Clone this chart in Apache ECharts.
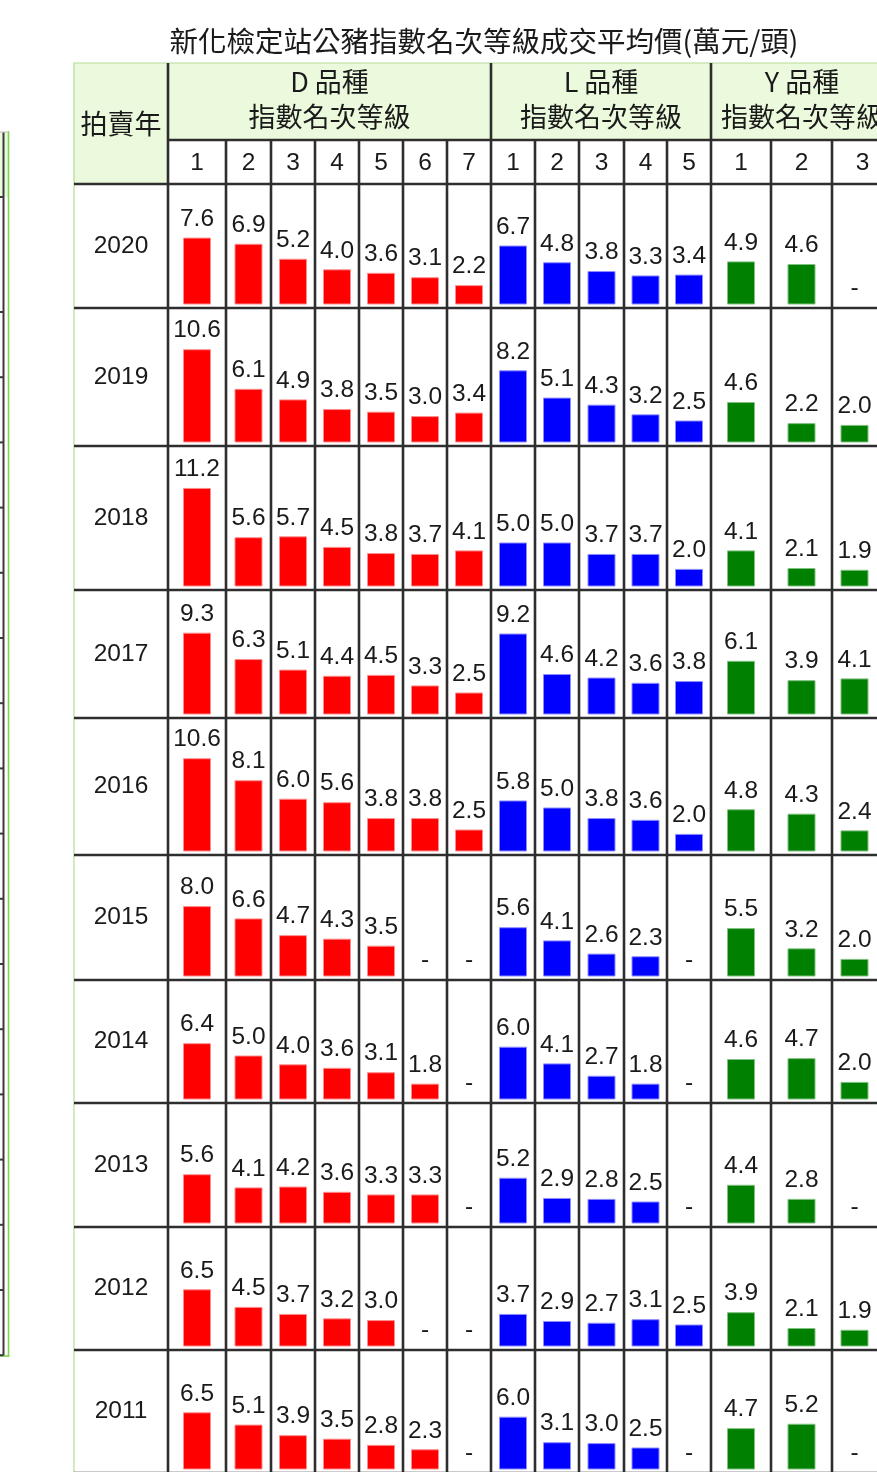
<!DOCTYPE html>
<html>
<head>
<meta charset="utf-8">
<script src="https://cdn.jsdelivr.net/npm/echarts@6/dist/echarts.min.js"></script>
<style>
html, body { margin: 0; padding: 0; background: #fff; }
#chart { width: 877px; height: 1472px; }
</style>
</head>
<body>
<div id="chart"></div>
<script>
var myChart = echarts.init(document.getElementById('chart'));

// data (萬元/頭), null = 無成交 "-"
var titleText = '新化檢定站公豬指數名次等級成交平均價(萬元/頭)';
var yearHead = '拍賣年';
var years = ['2020', '2019', '2018', '2017', '2016', '2015', '2014', '2013', '2012', '2011'];
var dGrades = ['1', '2', '3', '4', '5', '6', '7'];
var lGrades = ['1', '2', '3', '4', '5'];
var yGrades = ['1', '2', '3'];

var dPrice = [
  [7.6, 6.9, 5.2, 4.0, 3.6, 3.1, 2.2],
  [10.6, 6.1, 4.9, 3.8, 3.5, 3.0, 3.4],
  [11.2, 5.6, 5.7, 4.5, 3.8, 3.7, 4.1],
  [9.3, 6.3, 5.1, 4.4, 4.5, 3.3, 2.5],
  [10.6, 8.1, 6.0, 5.6, 3.8, 3.8, 2.5],
  [8.0, 6.6, 4.7, 4.3, 3.5, null, null],
  [6.4, 5.0, 4.0, 3.6, 3.1, 1.8, null],
  [5.6, 4.1, 4.2, 3.6, 3.3, 3.3, null],
  [6.5, 4.5, 3.7, 3.2, 3.0, null, null],
  [6.5, 5.1, 3.9, 3.5, 2.8, 2.3, null]
];
var lPrice = [
  [6.7, 4.8, 3.8, 3.3, 3.4],
  [8.2, 5.1, 4.3, 3.2, 2.5],
  [5.0, 5.0, 3.7, 3.7, 2.0],
  [9.2, 4.6, 4.2, 3.6, 3.8],
  [5.8, 5.0, 3.8, 3.6, 2.0],
  [5.6, 4.1, 2.6, 2.3, null],
  [6.0, 4.1, 2.7, 1.8, null],
  [5.2, 2.9, 2.8, 2.5, null],
  [3.7, 2.9, 2.7, 3.1, 2.5],
  [6.0, 3.1, 3.0, 2.5, null]
];
var yPrice = [
  [4.9, 4.6, null],
  [4.6, 2.2, 2.0],
  [4.1, 2.1, 1.9],
  [6.1, 3.9, 4.1],
  [4.8, 4.3, 2.4],
  [5.5, 3.2, 2.0],
  [4.6, 4.7, 2.0],
  [4.4, 2.8, null],
  [3.9, 2.1, 1.9],
  [4.7, 5.2, null]
];

var groups = [
  { name: 'D 品種', sub: '指數名次等級', grades: dGrades, values: dPrice, color: '#ff0000', edge: '#ff8c8c' },
  { name: 'L 品種', sub: '指數名次等級', grades: lGrades, values: lPrice, color: '#0000ff', edge: '#8c8cff' },
  { name: 'Y 品種', sub: '指數名次等級', grades: yGrades, values: yPrice, color: '#008000', edge: '#80c080' }
];

// table layout (px)
var tableLeft = 74;
var colEdges = [168, 226, 271, 315, 359, 403, 447, 491, 535, 579, 624, 667, 711, 771, 832, 893];
var headTop = 63, headMid = 140, headBottom = 184;
var rowEdges = [184, 308, 446, 590, 718, 855, 980, 1103, 1227, 1350, 1473];
var unit = 8.8, yMax = 12;
var cjk = '"Noto Sans CJK TC"';
var num = '"Liberation Sans"';

var grids = [], xAxes = [], yAxes = [], series = [];
var col = 0;
groups.forEach(function (g) {
  g.grades.forEach(function (gr, gi) {
    var x0 = colEdges[col], x1 = colEdges[col + 1];
    years.forEach(function (yr, ri) {
      var base = rowEdges[ri + 1] - 3.5;
      var idx = grids.length;
      var v = g.values[ri][gi];
      grids.push({ left: x0, width: x1 - x0, top: base - yMax * unit, height: yMax * unit });
      xAxes.push({ type: 'category', gridIndex: idx, data: [g.name + gr], show: false });
      yAxes.push({ type: 'value', gridIndex: idx, min: 0, max: yMax, show: false });
      series.push({
        type: 'bar',
        xAxisIndex: idx,
        yAxisIndex: idx,
        barWidth: 28,
        silent: true,
        data: [v == null
          ? { value: 0, itemStyle: { color: 'transparent', borderWidth: 0 } }
          : v],
        itemStyle: { color: g.color, borderColor: g.edge, borderWidth: 1 },
        label: {
          show: true,
          position: 'top',
          distance: v == null ? 4 : 6,
          fontFamily: num,
          fontSize: 24.5,
          color: '#1a1a1a',
          formatter: function () { return v == null ? '-' : v.toFixed(1); }
        }
      });
    });
    col++;
  });
});

// table drawing
var graphic = [];
var tableRight = colEdges[colEdges.length - 1];
var bottom = rowEdges[rowEdges.length - 1];
var dark = { stroke: '#2e2e2e', lineWidth: 2.6 };

function line(x1, y1, x2, y2, style) {
  graphic.push({ type: 'line', silent: true, z: 10, shape: { x1: x1, y1: y1, x2: x2, y2: y2 }, style: style });
}
function text(t, x, y, font) {
  graphic.push({ type: 'text', silent: true, z: 11, style: { text: t, x: x, y: y, align: 'center', verticalAlign: 'middle', font: font, fill: '#1a1a1a' } });
}

// header fills
graphic.push({ type: 'rect', silent: true, z: 1, shape: { x: tableLeft, y: headTop, width: colEdges[0] - tableLeft, height: headBottom - headTop }, style: { fill: '#ebf9dc' } });
graphic.push({ type: 'rect', silent: true, z: 1, shape: { x: colEdges[0], y: headTop, width: tableRight - colEdges[0], height: headMid - headTop }, style: { fill: '#ebf9dc' } });
// outer border
graphic.push({ type: 'rect', silent: true, z: 9, shape: { x: tableLeft, y: headTop, width: tableRight - tableLeft, height: bottom + 20 - headTop }, style: { fill: null, stroke: '#b5dc9c', lineWidth: 1.2 } });

// vertical lines
var groupEdges = [colEdges[0]];
var c = 0;
groups.forEach(function (g) { c += g.grades.length; groupEdges.push(colEdges[c]); });
colEdges.forEach(function (x, i) {
  if (i === colEdges.length - 1) return;
  var isGroup = groupEdges.indexOf(x) >= 0;
  line(x, isGroup ? headTop : headMid, x, bottom + 20, dark);
});
// horizontal lines
line(colEdges[0], headMid, tableRight, headMid, dark);
rowEdges.forEach(function (y) { line(tableLeft, y, tableRight, y, dark); });

// header text
text(yearHead, (tableLeft + colEdges[0]) / 2, (headTop + headBottom) / 2, '27px ' + cjk);
c = 0;
groups.forEach(function (g) {
  var gx0 = colEdges[c], gx1 = colEdges[c + g.grades.length];
  text(g.name, (gx0 + gx1) / 2, 82, '27px ' + cjk);
  text(g.sub, (gx0 + gx1) / 2, 117, '27px ' + cjk);
  g.grades.forEach(function (gr, gi) {
    text(gr, (colEdges[c + gi] + colEdges[c + gi + 1]) / 2, (headMid + headBottom) / 2 + 1, '24.5px ' + num);
  });
  c += g.grades.length;
});
years.forEach(function (yr, ri) {
  text(yr, (tableLeft + colEdges[0]) / 2, (rowEdges[ri] + rowEdges[ri + 1]) / 2, '24.5px ' + num);
});
// title
text(titleText, 484, 41, '28.5px ' + cjk);

// partial neighbour table at the left edge
graphic.push({ type: 'rect', silent: true, z: 1, shape: { x: 0, y: 132, width: 8, height: 65 }, style: { fill: '#ebf9dc' } });
line(3.5, 132, 3.5, 1356, { stroke: '#3a3a3a', lineWidth: 2 });
line(8.5, 131, 8.5, 1357, { stroke: '#7ad64e', lineWidth: 1.6 });
line(0, 132, 8.5, 132, { stroke: '#c8c8c8', lineWidth: 1.2 });
line(0, 1356, 8.5, 1356, { stroke: '#7ad64e', lineWidth: 1.6 });
var leftTicks = [197];
for (var k = 0; k <= 16; k++) leftTicks.push(312 + k * 65.2);
leftTicks.forEach(function (y) { line(0, y, 3.5, y, { stroke: '#3a3a3a', lineWidth: 2 }); });

option = {
  backgroundColor: '#ffffff',
  animation: false,
  grid: grids,
  xAxis: xAxes,
  yAxis: yAxes,
  series: series,
  graphic: graphic
};

myChart.setOption(option);
</script>
</body>
</html>
